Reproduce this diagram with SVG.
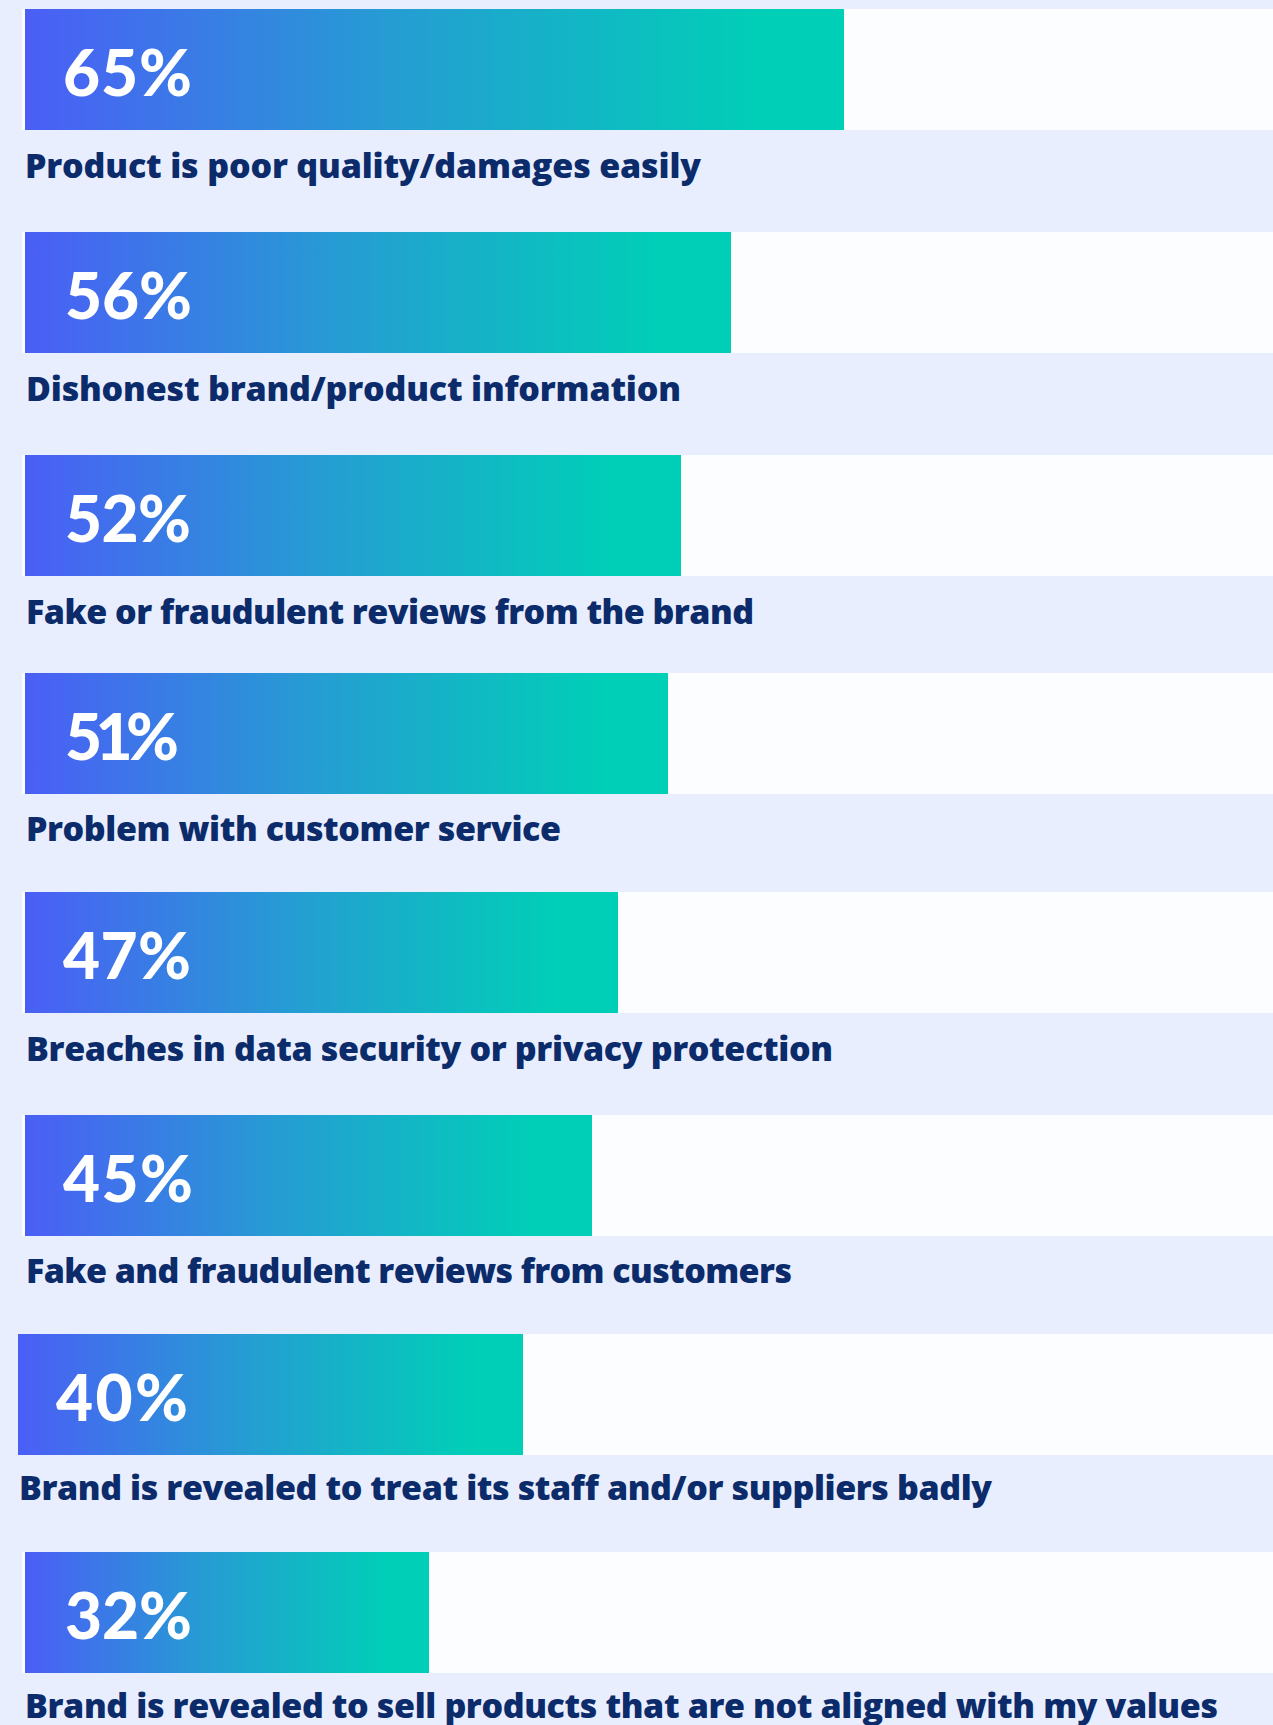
<svg xmlns="http://www.w3.org/2000/svg" width="1273" height="1725" viewBox="0 0 1273 1725">
<defs>
<linearGradient id="barGrad" x1="0" y1="0" x2="1" y2="0">
<stop offset="0" stop-color="#4B5EF6"/>
<stop offset="0.45" stop-color="#259DD3"/>
<stop offset="0.9" stop-color="#00CFB7"/>
<stop offset="1" stop-color="#00CFB7"/>
</linearGradient>
</defs>
<style>
.panel{fill:#FCFDFF}
.bar{fill:url(#barGrad)}
.pct{font-family:Lato,"Liberation Sans",sans-serif;font-weight:900;font-size:64px;fill:#FFFFFF}
.lbl{font-family:"Open Sans","Liberation Sans",sans-serif;font-weight:800;font-size:34px;fill:#0B2B6B}
</style>
<rect x="0" y="0" width="1273" height="1725" fill="#E8EEFD"/>
<g id="row-65">
<rect class="panel" x="22" y="9" width="1251" height="121"/>
<rect class="bar" x="25" y="9" width="819" height="121"/>
<text class="pct" x="63" y="96" textLength="129">65%</text>
<text class="lbl" x="25" y="178" textLength="676">Product is poor quality/damages easily</text>
</g>
<g id="row-56">
<rect class="panel" x="22" y="232" width="1251" height="121"/>
<rect class="bar" x="25" y="232" width="706" height="121"/>
<text class="pct" x="65" y="319" textLength="127">56%</text>
<text class="lbl" x="26" y="401" textLength="655">Dishonest brand/product information</text>
</g>
<g id="row-52">
<rect class="panel" x="22" y="455" width="1251" height="121"/>
<rect class="bar" x="25" y="455" width="656" height="121"/>
<text class="pct" x="65" y="542" textLength="126">52%</text>
<text class="lbl" x="26" y="624" textLength="728">Fake or fraudulent reviews from the brand</text>
</g>
<g id="row-51">
<rect class="panel" x="22" y="673" width="1251" height="121"/>
<rect class="bar" x="25" y="673" width="643" height="121"/>
<text class="pct" x="65" y="760" textLength="114">51%</text>
<text class="lbl" x="26" y="841" textLength="535">Problem with customer service</text>
</g>
<g id="row-47">
<rect class="panel" x="22" y="892" width="1251" height="121"/>
<rect class="bar" x="25" y="892" width="593" height="121"/>
<text class="pct" x="63" y="979" textLength="128">47%</text>
<text class="lbl" x="26" y="1061" textLength="807">Breaches in data security or privacy protection</text>
</g>
<g id="row-45">
<rect class="panel" x="22" y="1115" width="1251" height="121"/>
<rect class="bar" x="25" y="1115" width="567" height="121"/>
<text class="pct" x="63" y="1202" textLength="130">45%</text>
<text class="lbl" x="26" y="1283" textLength="766">Fake and fraudulent reviews from customers</text>
</g>
<g id="row-40">
<rect class="panel" x="18" y="1334" width="1255" height="121"/>
<rect class="bar" x="18" y="1334" width="505" height="121"/>
<text class="pct" x="56" y="1421" textLength="132">40%</text>
<text class="lbl" x="19" y="1500" textLength="973">Brand is revealed to treat its staff and/or suppliers badly</text>
</g>
<g id="row-32">
<rect class="panel" x="22" y="1552" width="1251" height="121"/>
<rect class="bar" x="25" y="1552" width="404" height="121"/>
<text class="pct" x="65" y="1639" textLength="127">32%</text>
<text class="lbl" x="25" y="1718" textLength="1193">Brand is revealed to sell products that are not aligned with my values</text>
</g>
</svg>
